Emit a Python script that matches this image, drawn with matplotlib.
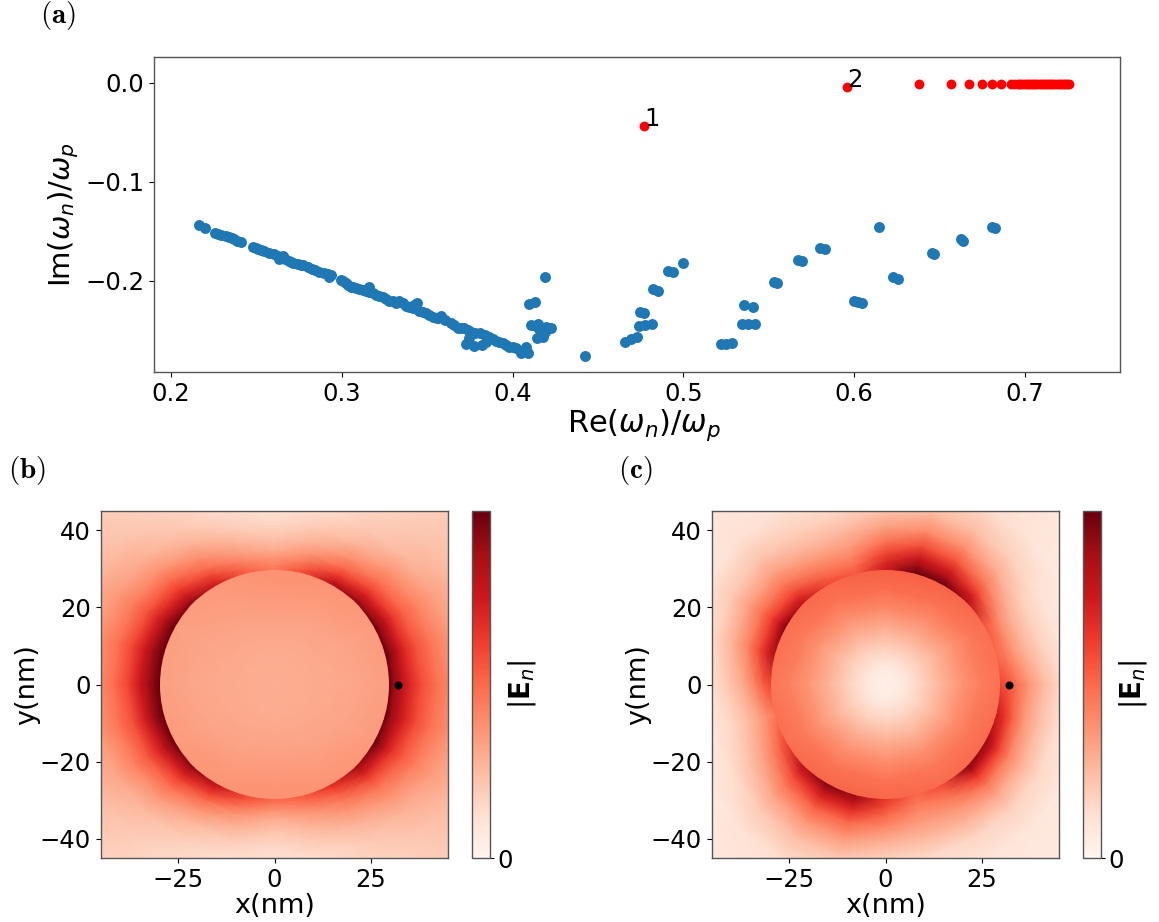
import numpy as np
import matplotlib
matplotlib.use("Agg")
import matplotlib.pyplot as plt
from matplotlib.patches import Circle
from matplotlib.cm import ScalarMappable
from matplotlib.colors import Normalize

# ---- panel (a): eigenvalues ----
blue_re = [.2162,.2197,.226,.2275,.2293,.2322,.234,.2357,.237,.2384,.241,.2478,.2495,.2507,.2527,.2546,.2575,.26,.2624,.2633,.2654,.2665,.2689,.2705,.2716,.2741,.2758,.2775,
           .28,.2823,.2845,.2868,.2898,.292,.2937,.2927,.2995,.3008,.3024,.3038,.3054,.3068,.3083,.31,.3122,.314,.3157,.3161,.318,.32,.322,.3239,.3258,.3278,.3297,.3317,.3337,.3355,.3376,
           .3395,.3415,.344,.3424,.3454,.3474,.3493,.3512,.3532,.3555,.3581,.356,.3605,.3639,.3658,.3678,.3698,.3717,.3736,.3756,.3727,.3776,.378,.382,.3746,.3809,.384,.3863,
           .3844,.3882,.3902,.3922,.3941,.396,.398,.4,.402,.4078,.4049,.4088,
           .4189,.4094,.4133,.4107,.4135,.4146,.4155,.418,.4165,.419,.4215,.4145,.4175,.4198,.4227,
           .4424,.4658,.4693,.4728,.4746,.4771,.4742,.4777,.4813,.4821,.4851,.4909,.4938,.4999,
           .522,.525,.5283,.5357,.5405,.5342,.5378,.5419,.553,.5547,.5672,.5697,.58,.5827,.6143,
           .5997,.6022,.6047,.6227,.6256,.6456,.6465,.6624,.6638,.6806,.6827]
blue_im = [-.1441,-.1468,-.1512,-.1525,-.1535,-.1545,-.1557,-.1569,-.158,-.1593,-.1609,-.166,-.1672,-.168,-.169,-.1697,-.172,-.173,-.1754,-.1775,-.1754,-.178,-.1795,-.1805,-.1815,-.1828,-.1835,-.1838,
           -.186,-.1882,-.1895,-.1906,-.1916,-.193,-.1939,-.1963,-.199,-.2005,-.2024,-.204,-.2057,-.2065,-.2074,-.208,-.2091,-.21,-.2064,-.2108,-.2125,-.2141,-.2152,-.2165,-.218,-.2199,-.2208,-.2219,-.2199,-.2225,-.2253,
           -.2265,-.2276,-.2219,-.2242,-.23,-.2313,-.2327,-.2343,-.236,-.2372,-.2354,-.2375,-.24,-.2421,-.245,-.2478,-.2478,-.2478,-.2495,-.2512,-.2636,-.2657,-.2525,-.265,-.2579,-.2522,-.2545,-.2562,
           -.2613,-.2585,-.2603,-.2615,-.263,-.2645,-.2663,-.267,-.268,-.267,-.2724,-.2731,
           -.1966,-.2232,-.2215,-.2444,-.2455,-.2438,-.249,-.2495,-.2535,-.2515,-.2475,-.258,-.2565,-.2466,-.2471,
           -.2758,-.2613,-.2583,-.2569,-.231,-.2326,-.2455,-.2448,-.2438,-.2084,-.2104,-.1896,-.1909,-.1815,
           -.2639,-.2633,-.263,-.2239,-.2259,-.2434,-.2434,-.2434,-.2007,-.2024,-.1788,-.1801,-.1667,-.168,-.1455,
           -.2199,-.2212,-.2225,-.1956,-.1977,-.1714,-.1727,-.1573,-.1593,-.1452,-.1468]
red_re = [.4769,.5958,.6381,.6567,.6671,.6747,.6806,.6862,.6916,.6935,.696,.697,.6985,.6998,.701,.7022,.7035,.7048,.706,.7072,.7085,.7098,.711,.7122,.7135,.7148,.716,.7172,.7185,.7198,.721,.7222,.7235,.7245,.7255]
red_im = [-.0437,-.0044,-.0014,-.0012,-.0012,-.0012,-.0012,-.0012,-.0012,-.0012,-.0012,-.0012,-.0012,-.0012,-.0012,-.0012,-.0012,-.0012,-.0012,-.0012,-.0012,-.0012,-.0012,-.0012,-.0012,-.0012,-.0012,-.0012,-.0012,-.0012,-.0012,-.0012,-.0012,-.0012,-.0012]
mode_labels = ["1", "2"]
re_ticks = [0.2, 0.3, 0.4, 0.5, 0.6, 0.7]
im_ticks = [-0.2, -0.1, 0.0]

# ---- panels (b), (c): |E_n| read around the disk, by angle (columns) and radius (rows) ----
angles_out = [0,15,30,45,60,75,90,105,120,135,150,165,180,195,210,225,240,255,270,285,300,315,330,345]
angles_in = [0,30,60,90,120,150,180,210,240,270,300,330]
dot_x = [32]
dot_y = [0]

radii_b = [27, 29.7, 31, 33, 35, 38, 42, 47, 54, 66]
field_b = [
 [1,1,1,.95,.85,.6,.45,.55,.75,.95,1,1,1,1,1,.95,.8,.6,.5,.55,.7,.9,1,1],
 [1,1,1,.95,.85,.6,.45,.55,.75,.95,1,1,1,1,1,.95,.8,.6,.5,.55,.7,.9,1,1],
 [.9,.92,.9,.85,.75,.55,.42,.5,.68,.85,.94,.95,.95,.95,.92,.85,.72,.55,.45,.5,.62,.82,.92,.9],
 [.8,.8,.78,.72,.62,.45,.36,.42,.58,.72,.82,.86,.86,.85,.8,.72,.6,.45,.36,.42,.52,.7,.78,.8],
 [.7,.68,.65,.6,.5,.37,.29,.35,.48,.62,.7,.74,.75,.72,.68,.6,.48,.36,.29,.34,.45,.58,.66,.7],
 [.58,.56,.52,.47,.38,.28,.22,.27,.38,.5,.56,.6,.6,.57,.54,.47,.36,.28,.22,.27,.36,.46,.54,.58],
 [.48,.46,.42,.36,.27,.2,.15,.19,.28,.37,.44,.47,.47,.46,.42,.35,.25,.19,.15,.2,.27,.36,.43,.47],
 [.38,.36,.33,.26,.2,.13,.1,.13,.2,.28,.35,.38,.38,.36,.32,.25,.18,.13,.1,.13,.2,.27,.34,.38],
 [.3,.28,.26,.22,.16,.11,.08,.11,.16,.22,.28,.3,.3,.28,.26,.2,.14,.1,.08,.11,.16,.22,.27,.3],
 [.25,.24,.22,.18,.14,.1,.08,.1,.14,.18,.24,.25,.25,.24,.22,.17,.13,.1,.08,.1,.13,.18,.23,.25],
]
radii_b_in = [0, 10, 20, 27, 36]
field_b_in = [
 [.29]*12,
 [.3,.3,.3,.3,.3,.3,.3,.3,.3,.3,.3,.3],
 [.31,.32,.33,.34,.33,.32,.31,.32,.33,.34,.33,.32],
 [.33,.34,.36,.37,.35,.33,.33,.34,.36,.37,.36,.34],
 [.34,.36,.38,.39,.37,.35,.34,.36,.38,.39,.38,.36],
]

radii_c = [27, 29.7, 32, 34, 37, 41, 46, 53, 66]
field_c = [
 [.6,.5,.55,.85,1,1,.75,.55,.6,.8,.95,.85,.6,.45,.6,.85,.95,.9,.65,.5,.6,.95,.9,.75],
 [.6,.5,.55,.85,1,1,.75,.55,.6,.8,.95,.85,.6,.45,.6,.85,.95,.9,.65,.5,.6,.95,.9,.75],
 [.55,.44,.48,.72,.85,.88,.68,.48,.52,.68,.75,.7,.52,.38,.5,.7,.8,.78,.58,.45,.52,.78,.75,.65],
 [.48,.36,.38,.58,.72,.75,.6,.42,.45,.57,.62,.58,.42,.32,.42,.58,.68,.66,.5,.4,.45,.62,.6,.52],
 [.37,.27,.28,.43,.55,.58,.47,.34,.36,.45,.48,.42,.3,.24,.32,.45,.52,.5,.4,.34,.37,.45,.42,.36],
 [.25,.18,.18,.29,.38,.4,.33,.26,.26,.33,.33,.28,.2,.16,.22,.32,.37,.36,.28,.26,.27,.3,.27,.24],
 [.14,.1,.11,.18,.24,.25,.2,.17,.18,.22,.2,.15,.1,.09,.13,.2,.24,.22,.16,.15,.16,.17,.15,.13],
 [.08,.06,.07,.1,.14,.14,.12,.1,.11,.12,.1,.08,.05,.05,.07,.11,.13,.12,.09,.08,.09,.09,.08,.08],
 [.05,.05,.06,.08,.08,.08,.08,.07,.07,.08,.07,.05,.04,.04,.05,.07,.08,.08,.07,.06,.06,.07,.06,.05],
]
radii_c_in = [0, 5, 10, 15, 20, 25, 36]
field_c_in = [
 [.03]*12,
 [.08]*12,
 [.18,.18,.19,.19,.18,.18,.18,.18,.18,.18,.18,.18],
 [.28,.28,.3,.3,.29,.28,.28,.28,.29,.29,.28,.28],
 [.37,.37,.4,.41,.39,.37,.36,.37,.39,.39,.38,.38],
 [.44,.45,.48,.49,.47,.45,.43,.45,.47,.47,.46,.46],
 [.5,.52,.56,.57,.54,.52,.5,.52,.55,.55,.53,.53],
]
x_ticks = [-25, 0, 25]
y_ticks = [-40, -20, 0, 20, 40]

W, H = 1159, 922
plt.rcParams.update({"font.family": "DejaVu Sans", "mathtext.fontset": "dejavusans",
                     "axes.edgecolor": "#555555", "axes.linewidth": 1.0})
TICK = 17.5
LAB = 19.5
fig = plt.figure(figsize=(W/100, H/100), dpi=100)

def box(l, t, r, b):
    return [l/W, 1-b/H, (r-l)/W, (b-t)/H]

ax = fig.add_axes(box(154, 57, 1120, 372))
ax.scatter(blue_re, blue_im, s=62, color="#1f77b4", linewidths=0, zorder=2)
ax.scatter(red_re, red_im, s=50, color="red", linewidths=0, zorder=3)
for i, lab in enumerate(mode_labels):
    ax.annotate(lab, (red_re[i], red_im[i]), xytext=(0, -3.5), textcoords="offset points",
                fontsize=TICK, ha="left", va="bottom", zorder=4)
ax.set_xlim(0.19, 0.7556)
ax.set_ylim(-0.292, 0.026)
ax.set_xticks(re_ticks)
ax.set_yticks(im_ticks)
ax.tick_params(labelsize=TICK, color="black", width=0.8, length=3.5)
ax.set_xlabel(r"Re($\omega_n$)/$\omega_p$", fontsize=22, labelpad=1)
ax.xaxis.label.set_x(0.507)
ax.set_ylabel(r"Im($\omega_n$)/$\omega_p$", fontsize=21, labelpad=3)

def ring(a, radii, angles, values, **kw):
    th = np.deg2rad(np.r_[angles, 360.0])
    v = np.asarray(values, float)
    v = np.c_[v, v[:, 0]]
    rr, tt = np.meshgrid(radii, th, indexing="ij")
    return a.pcolormesh(rr*np.cos(tt), rr*np.sin(tt), v, shading="gouraud",
                        cmap="Reds", vmin=0, vmax=1, rasterized=True, **kw)

def panel(l, cl, radii, field, radii_in, field_in):
    a = fig.add_axes(box(l, 510.7, l+347.6, 858.3))
    ring(a, radii, angles_out, field)
    inner = ring(a, radii_in, angles_in, field_in)
    inner.set_clip_path(Circle((0, 0), 29.7, transform=a.transData))
    a.scatter(dot_x, dot_y, s=34, color="black", linewidths=0, zorder=5)
    a.set_xlim(-45, 45)
    a.set_ylim(-45, 45)
    a.set_xticks(x_ticks)
    a.set_yticks(y_ticks)
    a.tick_params(labelsize=TICK, color="black", width=0.8, length=3.5)
    a.set_xlabel("x(nm)", fontsize=LAB, labelpad=1)
    a.set_ylabel("y(nm)", fontsize=LAB, labelpad=0)
    cax = fig.add_axes(box(cl, 510.7, cl+18, 858.3))
    cb = fig.colorbar(ScalarMappable(Normalize(0, 1), "Reds"), cax=cax, ticks=[0])
    cb.ax.tick_params(labelsize=TICK, color="black", width=0.8, length=3, pad=2.5)
    cb.set_label(r"$|\mathbf{E}_n|$", fontsize=20, labelpad=-5)

panel(100.7, 472, radii_b, field_b, radii_b_in, field_b_in)
panel(711.7, 1083, radii_c, field_c, radii_c_in, field_c_in)

for s, x, y in [(r"$\mathbf{(a)}$", 40, 16), (r"$\mathbf{(b)}$", 8, 470), (r"$\mathbf{(c)}$", 618, 470)]:
    fig.text(x/W, 1-y/H, s, fontsize=21, math_fontfamily="cm", ha="left", va="center")

fig.savefig("out.png", dpi=100)
